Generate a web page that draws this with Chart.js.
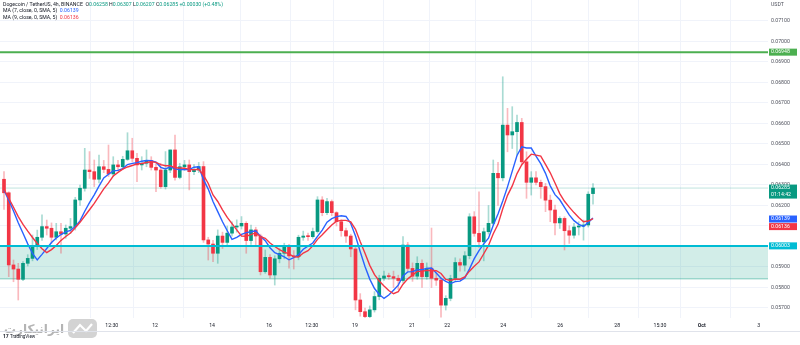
<!DOCTYPE html>
<html>
<head>
<meta charset="utf-8">
<title>DOGE/USDT 4h</title>
<script src="https://cdn.jsdelivr.net/npm/chart.js@4.4.1/dist/chart.umd.min.js"></script>
<style>
  html, body { margin: 0; padding: 0; background: #fff; }
  #wrap { width: 800px; height: 345px; }
</style>
</head>
<body>
<div id="wrap"><canvas id="dogeChart" width="800" height="345"></canvas></div>
<script>
// 4h candles, oldest first
const opens = [
  0.06328, 0.06262, 0.05910, 0.05890, 0.05840, 0.05918, 0.05942, 0.05999, 0.06045, 0.06097,
  0.06089, 0.06045, 0.06072, 0.06061, 0.06089, 0.06097, 0.06227, 0.06284, 0.06373, 0.06365,
  0.06328, 0.06389, 0.06376, 0.06354, 0.06398, 0.06389, 0.06425, 0.06467, 0.06430, 0.06398,
  0.06406, 0.06419, 0.06386, 0.06373, 0.06292, 0.06373, 0.06471, 0.06337, 0.06389, 0.06398,
  0.06365, 0.06373, 0.06390, 0.06032, 0.06012, 0.05967, 0.06051, 0.06020, 0.06065, 0.06095,
  0.06100, 0.06113, 0.06029, 0.06081, 0.06051, 0.05877, 0.05947, 0.05861, 0.05940, 0.05967,
  0.05999, 0.05954, 0.05950, 0.06045, 0.06051, 0.06048, 0.06073, 0.06227, 0.06165, 0.06219,
  0.06165, 0.06121, 0.06077, 0.06051, 0.05988, 0.05739, 0.05682, 0.05658, 0.05691, 0.05756,
  0.05845, 0.05856, 0.05853, 0.05845, 0.05834, 0.06007, 0.05893, 0.05855, 0.05918, 0.05853,
  0.05894, 0.05845, 0.05836, 0.05714, 0.05747, 0.05844, 0.05922, 0.05909, 0.05955, 0.06145,
  0.06064, 0.06023, 0.06072, 0.06113, 0.06357, 0.06335, 0.06592, 0.06544, 0.06560, 0.06605,
  0.06413, 0.06313, 0.06335, 0.06313, 0.06292, 0.06226, 0.06178, 0.06115, 0.06137, 0.06077,
  0.06055, 0.06095, 0.06100, 0.06105, 0.06258
];
const highs = [
  0.06365, 0.06267, 0.05934, 0.05918, 0.05926, 0.05960, 0.06056, 0.06080, 0.06154, 0.06129,
  0.06115, 0.06113, 0.06113, 0.06105, 0.06137, 0.06240, 0.06300, 0.06479, 0.06463, 0.06422,
  0.06446, 0.06420, 0.06495, 0.06438, 0.06420, 0.06440, 0.06555, 0.06528, 0.06454, 0.06438,
  0.06471, 0.06438, 0.06406, 0.06406, 0.06463, 0.06471, 0.06544, 0.06406, 0.06420, 0.06422,
  0.06400, 0.06410, 0.06414, 0.06045, 0.06030, 0.06081, 0.06070, 0.06100, 0.06120, 0.06130,
  0.06146, 0.06121, 0.06105, 0.06094, 0.06060, 0.05983, 0.05960, 0.05955, 0.05990, 0.06016,
  0.06010, 0.05980, 0.06055, 0.06075, 0.06065, 0.06090, 0.06243, 0.06243, 0.06235, 0.06227,
  0.06170, 0.06130, 0.06090, 0.06060, 0.06000, 0.05770, 0.05700, 0.05710, 0.05780, 0.05860,
  0.05880, 0.05870, 0.05880, 0.05860, 0.06048, 0.06020, 0.05920, 0.05950, 0.05935, 0.05920,
  0.06090, 0.05870, 0.05850, 0.05760, 0.05860, 0.05945, 0.05940, 0.05975, 0.06160, 0.06170,
  0.06267, 0.06090, 0.06200, 0.06422, 0.06410, 0.06828, 0.06674, 0.06682, 0.06641, 0.06625,
  0.06462, 0.06365, 0.06365, 0.06324, 0.06308, 0.06251, 0.06202, 0.06145, 0.06145, 0.06101,
  0.06113, 0.06121, 0.06129, 0.06267, 0.06307
];
const lows = [
  0.06181, 0.05853, 0.05828, 0.05739, 0.05833, 0.05905, 0.05930, 0.05985, 0.06030, 0.06056,
  0.06015, 0.06032, 0.05967, 0.06040, 0.06064, 0.06080, 0.06200, 0.06270, 0.06332, 0.06292,
  0.06310, 0.06360, 0.06341, 0.06341, 0.06370, 0.06375, 0.06420, 0.06414, 0.06316, 0.06373,
  0.06389, 0.06373, 0.06267, 0.06284, 0.06280, 0.06360, 0.06324, 0.06330, 0.06370, 0.06276,
  0.06350, 0.06360, 0.06020, 0.05934, 0.05926, 0.05918, 0.05990, 0.06005, 0.06050, 0.06070,
  0.06085, 0.05967, 0.06010, 0.05999, 0.05861, 0.05869, 0.05845, 0.05812, 0.05920, 0.05940,
  0.05894, 0.05890, 0.05935, 0.06030, 0.06030, 0.06040, 0.06065, 0.06150, 0.06155, 0.06150,
  0.06100, 0.06050, 0.06020, 0.05950, 0.05691, 0.05660, 0.05650, 0.05650, 0.05680, 0.05740,
  0.05835, 0.05840, 0.05800, 0.05790, 0.05825, 0.05880, 0.05830, 0.05840, 0.05800, 0.05840,
  0.05800, 0.05810, 0.05655, 0.05690, 0.05735, 0.05830, 0.05880, 0.05880, 0.05940, 0.06050,
  0.05995, 0.05930, 0.06060, 0.06105, 0.06200, 0.06320, 0.06462, 0.06478, 0.06446, 0.06397,
  0.06235, 0.06251, 0.06300, 0.06235, 0.06170, 0.06121, 0.06056, 0.06088, 0.05983, 0.06015,
  0.06040, 0.06056, 0.06031, 0.06095, 0.06207
];
const closes = [
  0.06262, 0.05910, 0.05890, 0.05840, 0.05918, 0.05942, 0.05999, 0.06045, 0.06097, 0.06089,
  0.06045, 0.06072, 0.06061, 0.06089, 0.06097, 0.06227, 0.06284, 0.06373, 0.06365, 0.06328,
  0.06389, 0.06376, 0.06354, 0.06398, 0.06389, 0.06425, 0.06467, 0.06430, 0.06398, 0.06406,
  0.06419, 0.06386, 0.06373, 0.06292, 0.06373, 0.06471, 0.06337, 0.06389, 0.06398, 0.06365,
  0.06373, 0.06390, 0.06032, 0.06012, 0.05967, 0.06051, 0.06020, 0.06065, 0.06095, 0.06100,
  0.06113, 0.06029, 0.06081, 0.06051, 0.05877, 0.05947, 0.05861, 0.05940, 0.05967, 0.05999,
  0.05954, 0.05950, 0.06045, 0.06051, 0.06048, 0.06073, 0.06227, 0.06165, 0.06219, 0.06165,
  0.06121, 0.06077, 0.06051, 0.05988, 0.05739, 0.05682, 0.05658, 0.05691, 0.05756, 0.05845,
  0.05856, 0.05853, 0.05845, 0.05834, 0.06007, 0.05893, 0.05855, 0.05918, 0.05853, 0.05894,
  0.05845, 0.05836, 0.05714, 0.05747, 0.05844, 0.05922, 0.05909, 0.05955, 0.06145, 0.06064,
  0.06023, 0.06072, 0.06113, 0.06357, 0.06335, 0.06592, 0.06544, 0.06560, 0.06605, 0.06413,
  0.06313, 0.06335, 0.06313, 0.06292, 0.06226, 0.06178, 0.06115, 0.06137, 0.06077, 0.06055,
  0.06095, 0.06100, 0.06105, 0.06255, 0.06285
];
// closes just before the first visible candle, needed to start the moving averages
const prevCloses = [0.06310, 0.06285, 0.06250, 0.06262, 0.06240, 0.06278, 0.06305, 0.06328];

// horizontal levels
const resistance = 0.06948;
const zoneTop = 0.06003;
const zoneBottom = 0.05842;

// time axis
const timeTicks = [22.7, 31.8, 43.8, 55.8, 64.8, 73.9, 85.9, 93.3, 105.1, 117.1, 129.1, 138.1, 146.9, 158.9];
const timeLabels = ['12:30', '12', '14', '16', '12:30', '19', '21', '22', '24', '26', '28', '15:30', 'Oct', '3'];
// price axis
const priceTicks = [0.057, 0.058, 0.059, 0.060, 0.061, 0.062, 0.063, 0.064, 0.065, 0.066, 0.067, 0.068, 0.069, 0.070, 0.071];

const X_MIN = -0.842, X_MAX = 160.84;
const Y_MIN = 0.056512, Y_MAX = 0.072024;

const UP = '#089981', DOWN = '#f23645';
const UP_WICK = 'rgba(8,153,129,0.35)', DOWN_WICK = 'rgba(242,54,69,0.35)';
const FONT = 'Roboto, "Liberation Sans", sans-serif';

function sma(len) {
  const all = prevCloses.concat(closes);
  return closes.map((c, i) => {
    const end = i + prevCloses.length;
    let s = 0;
    for (let k = end - len + 1; k <= end; k++) s += all[k];
    return { x: i, y: s / len };
  });
}
const ma7 = sma(7);
const ma9 = sma(9);
const last = closes.length - 1;
const lastPrice = closes[last];

const isUp = closes.map((c, i) => c >= opens[i]);
const hline = (v) => [{ x: X_MIN, y: v }, { x: X_MAX, y: v }];

/* ---------------------------------------------------
    overlay: legend, axis tags, watermark
----------------------------------------------------- */
const overlay = {
  id: 'overlay',
  afterDraw(chart) {
    const ctx = chart.ctx;
    const ys = chart.scales.y;
    ctx.save();

    // legend rows
    ctx.textBaseline = 'middle';
    ctx.textAlign = 'left';
    ctx.font = '5.2px ' + FONT;
    const row = (parts, y) => {
      let x = 3;
      parts.forEach(([t, c]) => {
        ctx.fillStyle = c;
        ctx.fillText(t, x, y);
        x += ctx.measureText(t).width;
      });
    };
    const chg = lastPrice - closes[last - 1];
    const pct = chg / closes[last - 1] * 100;
    const dark = '#131722';
    row([
      ['Dogecoin / TetherUS, 4h, BINANCE  ', dark],
      ['O', dark], [opens[last].toFixed(5) + ' ', UP],
      ['H', dark], [highs[last].toFixed(5) + ' ', UP],
      ['L', dark], [lows[last].toFixed(5) + ' ', UP],
      ['C', dark], [lastPrice.toFixed(5) + ' ', UP],
      ['+' + chg.toFixed(5) + ' (+' + pct.toFixed(2) + '%)', UP]
    ], 4.5);
    row([['MA (7, close, 0, SMA, 5)  ', dark], [ma7[last].y.toFixed(5), '#2962ff']], 11);
    row([['MA (9, close, 0, SMA, 5)  ', dark], [ma9[last].y.toFixed(5), DOWN]], 17.5);

    // currency over the price scale
    ctx.fillStyle = '#50535e';
    ctx.fillText('USDT', 771, 4.5);

    // price tags on the right axis
    const tag = (val, bg, lines, dy) => {
      const py = ys.getPixelForValue(val) + (dy || 0);
      const h = 7 * lines.length;
      ctx.fillStyle = bg;
      ctx.fillRect(769, py - 3.5, 28, h);
      ctx.fillStyle = '#ffffff';
      lines.forEach((t, k) => ctx.fillText(t, 771, py + k * 7));
    };
    tag(resistance, '#4caf50', [resistance.toFixed(5)]);
    tag(lastPrice, UP, [lastPrice.toFixed(5), '01:14:42']);
    tag(ma7[last].y, '#2962ff', [ma7[last].y.toFixed(5)], 1);
    tag(ma9[last].y, DOWN, [ma9[last].y.toFixed(5)], 8);
    tag(zoneTop, '#00bcd4', [zoneTop.toFixed(5)]);

    // watermark
    ctx.fillStyle = '#b4b4b4';
    ctx.font = 'bold 12px "DejaVu Sans", sans-serif';
    ctx.textBaseline = 'alphabetic';
    ctx.fillText('ایرانیکارت', 4, 333);
    ctx.fillStyle = '#d3d3d3';
    ctx.beginPath();
    ctx.roundRect(68, 319, 29, 19, 5);
    ctx.fill();
    ctx.strokeStyle = '#ffffff';
    ctx.lineWidth = 2.2;
    ctx.beginPath();
    ctx.moveTo(73, 333);
    ctx.lineTo(80, 325);
    ctx.lineTo(86, 331);
    ctx.lineTo(92, 324);
    ctx.stroke();

    // footer
    ctx.strokeStyle = '#e0e3eb';
    ctx.lineWidth = 1;
    ctx.beginPath();
    ctx.moveTo(0, 331.5);
    ctx.lineTo(800, 331.5);
    ctx.stroke();
    ctx.fillStyle = '#131722';
    ctx.font = 'bold 5px ' + FONT;
    ctx.textBaseline = 'middle';
    ctx.fillText('17', 3, 337);
    ctx.font = '4.6px ' + FONT;
    ctx.fillText('TradingView', 10, 337);

    ctx.restore();
  }
};

new Chart(document.getElementById('dogeChart'), {
  type: 'bar',
  data: {
    datasets: [
      {
        label: 'wick',
        data: closes.map((c, i) => ({ x: i, y: [lows[i], highs[i]] })),
        backgroundColor: isUp.map(u => u ? UP_WICK : DOWN_WICK),
        barThickness: 1,
        grouped: false,
        order: 3
      },
      {
        label: 'body',
        data: closes.map((c, i) => ({ x: i, y: [opens[i], c] })),
        backgroundColor: isUp.map(u => u ? UP : DOWN),
        barThickness: 3,
        minBarLength: 1,
        grouped: false,
        order: 2
      },
      {
        type: 'line',
        label: 'zone',
        data: hline(zoneBottom),
        borderColor: 'rgba(8,153,129,0.45)',
        borderWidth: 1,
        pointRadius: 0,
        fill: { target: { value: zoneTop }, above: 'rgba(8,153,129,0.18)', below: 'rgba(8,153,129,0.18)' },
        order: 6
      },
      {
        type: 'line',
        label: 'last',
        data: hline(lastPrice),
        borderColor: 'rgba(8,153,129,0.25)',
        borderWidth: 1,
        pointRadius: 0,
        order: 5
      },
      {
        type: 'line',
        label: 'MA 9',
        data: ma9,
        borderColor: DOWN,
        borderWidth: 1.4,
        pointRadius: 0,
        tension: 0,
        order: 1
      },
      {
        type: 'line',
        label: 'MA 7',
        data: ma7,
        borderColor: '#2962ff',
        borderWidth: 1.4,
        pointRadius: 0,
        tension: 0,
        order: 1
      },
      {
        type: 'line',
        label: 'support',
        data: hline(zoneTop),
        borderColor: '#00bcd4',
        borderWidth: 2,
        pointRadius: 0,
        order: 0
      },
      {
        type: 'line',
        label: 'resistance',
        data: hline(resistance),
        borderColor: '#4caf50',
        borderWidth: 2,
        pointRadius: 0,
        order: 0
      }
    ]
  },
  options: {
    responsive: false,
    animation: false,
    devicePixelRatio: 1,
    layout: { padding: { left: 0, right: 0, top: 0, bottom: 13 } },
    plugins: { legend: { display: false }, tooltip: { enabled: false } },
    scales: {
      x: {
        type: 'linear',
        min: X_MIN,
        max: X_MAX,
        offset: false,
        border: { display: false },
        grid: { color: '#f0f3fa', drawTicks: false },
        afterBuildTicks: (s) => { s.ticks = timeTicks.map(v => ({ value: v })); },
        afterFit: (s) => { s.height = 14; s.paddingLeft = 0; s.paddingRight = 0; },
        ticks: {
          autoSkip: false,
          maxRotation: 0,
          padding: 5,
          color: '#131722',
          font: (c) => ({ family: FONT, size: 5.2, weight: c.tick && c.tick.label === 'Oct' ? 'bold' : 'normal' }),
          callback: (v, i) => timeLabels[i]
        }
      },
      y: {
        type: 'linear',
        position: 'right',
        min: Y_MIN,
        max: Y_MAX,
        beginAtZero: false,
        border: { display: false },
        grid: { color: '#f0f3fa', drawTicks: false },
        afterBuildTicks: (s) => { s.ticks = priceTicks.map(v => ({ value: v })); },
        afterFit: (s) => { s.width = 32; s.paddingTop = 0; s.paddingBottom = 0; },
        ticks: {
          padding: 3,
          color: '#50535e',
          font: { family: FONT, size: 5.2 },
          callback: (v) => v.toFixed(5)
        }
      }
    }
  },
  plugins: [overlay]
});
</script>
</body>
</html>
